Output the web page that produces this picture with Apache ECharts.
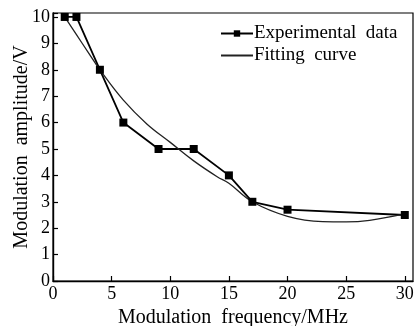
<!DOCTYPE html>
<html>
<head>
<meta charset="utf-8">
<script src="https://cdn.jsdelivr.net/npm/echarts@6/dist/echarts.min.js"></script>
<style>
  html, body { margin: 0; padding: 0; background: #fff; }
  #chart { width: 417px; height: 326px; }
</style>
</head>
<body>
<div id="chart"></div>
<script>
// experimental points
const expFreq = [1, 2, 4, 6, 9, 12, 15, 17, 20, 30]
const expAmp = [10, 10, 8, 6, 5, 5, 4, 3, 2.7, 2.5]

// fitting curve
const fitFreq = [1, 2, 3, 4, 6, 8, 10, 12, 14, 15, 17, 20, 23, 25, 27, 30]
const fitAmp = [10, 9.33, 8.66, 8.0, 6.85, 5.95, 5.25, 4.55, 3.95, 3.7, 3.0, 2.45, 2.25, 2.24, 2.3, 2.54]

const xTicks = [0, 5, 10, 15, 20, 25, 30]

const font = 'Liberation Serif'

const chart = echarts.init(document.getElementById('chart'), null, { renderer: 'canvas' })

chart.setOption({
  animation: false,
  grid: {
    left: 53, right: 4, top: 13, bottom: 45,
    outerBoundsMode: 'none',
    containLabel: false,
    show: true, borderColor: '#000', borderWidth: 1.2
  },
  legend: {
    left: 215, top: 19,
    orient: 'vertical',
    itemWidth: 32, itemHeight: 8, itemGap: 3,
    textStyle: { fontFamily: font, fontSize: 19, color: '#000', padding: [0, 0, 0, -4] },
    data: [
      { name: 'Experimental  data' },
      { name: 'Fitting  curve', itemStyle: { opacity: 0 } }
    ]
  },
  xAxis: {
    type: 'value', min: 0, max: 30.7, interval: 5,
    name: 'Modulation  frequency/MHz', nameLocation: 'middle', nameGap: 27,
    nameMoveOverlap: false,
    nameTextStyle: { fontFamily: font, fontSize: 20, color: '#000' },
    axisLine: { lineStyle: { color: '#000', width: 1.4 } },
    axisTick: { inside: true, length: 5, lineStyle: { color: '#000', width: 1.2 } },
    axisLabel: {
      fontFamily: font, fontSize: 18, color: '#000', margin: 4,
      showMaxLabel: false,
      formatter: v => xTicks.includes(v) ? String(v) : ''
    },
    splitLine: { show: false }
  },
  yAxis: {
    type: 'value', min: 0, max: 10.15, interval: 1,
    name: 'Modulation  amplitude/V', nameLocation: 'middle', nameGap: 21,
    nameMoveOverlap: false,
    nameTextStyle: { fontFamily: font, fontSize: 20, color: '#000' },
    axisLine: { show: true, lineStyle: { color: '#000', width: 1.4 } },
    axisTick: { show: true, inside: true, length: 5, lineStyle: { color: '#000', width: 1.2 } },
    axisLabel: {
      fontFamily: font, fontSize: 18, color: '#000', margin: 3,
      formatter: v => Number.isInteger(v) ? String(v) : ''
    },
    splitLine: { show: false }
  },
  series: [
    {
      name: 'Experimental  data',
      type: 'line',
      data: expFreq.map((f, i) => [f, expAmp[i]]),
      symbol: 'rect', symbolSize: 8,
      itemStyle: { color: '#000' },
      lineStyle: { color: '#000', width: 1.8 },
      z: 3
    },
    {
      name: 'Fitting  curve',
      type: 'line',
      data: fitFreq.map((f, i) => [f, fitAmp[i]]),
      smooth: 0.4,
      showSymbol: false,
      symbol: 'none',
      itemStyle: { color: '#000' },
      lineStyle: { color: '#222', width: 1.3 }
    }
  ]
})
</script>
</body>
</html>
